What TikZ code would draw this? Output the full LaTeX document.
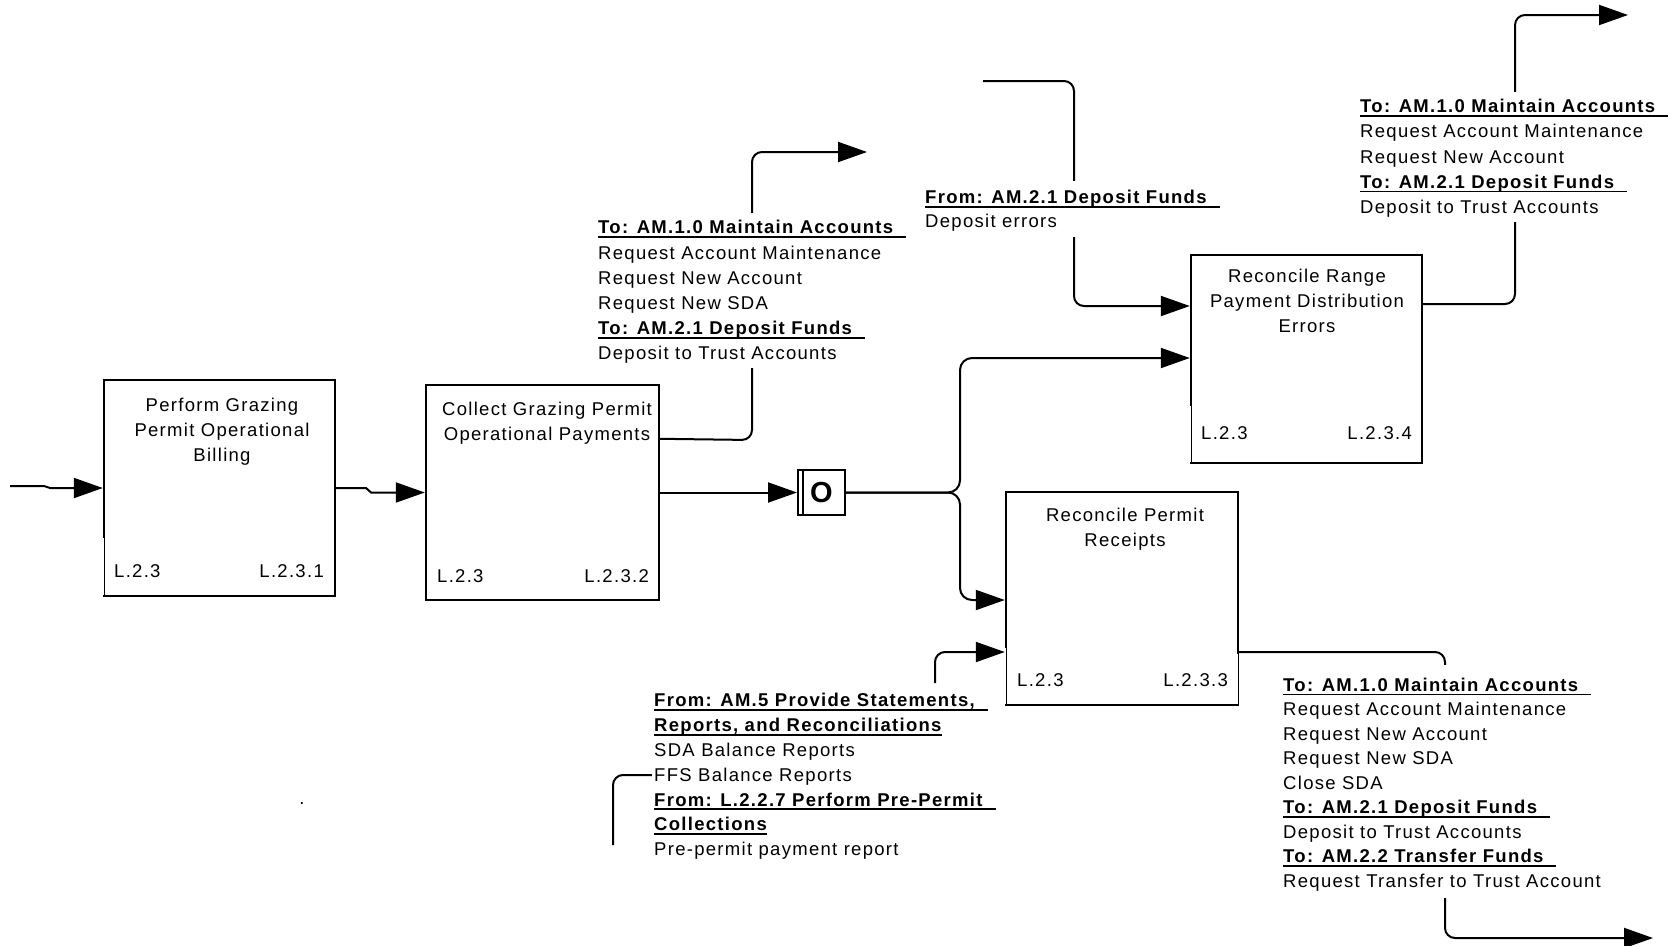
\documentclass[tikz,border=0pt]{standalone}
\usepackage{fontspec}
\setmainfont{Liberation Sans}[LetterSpace=7]
\usetikzlibrary{arrows.meta,calc}

% underlined bold flow heading (underline runs past the text) and plain variant
\newcommand{\hd}[1]{\sbox0{\bfseries #1\hspace{13pt}}\rlap{\rule[-4pt]{\wd0}{1.6pt}}\usebox0}
\newcommand{\hdn}[1]{\sbox0{\bfseries #1}\rlap{\rule[-4pt]{\wd0}{1.6pt}}\usebox0}
% invisible struts that set how far a text block's white ground reaches
\newcommand{\tstrut}[1]{\rule{0pt}{#1}}
\newcommand{\bstrut}[1]{\rule[-#1]{0pt}{#1}}

\pgfdeclarelayer{lines}
\pgfsetlayers{lines,main}

\tikzset{
  procbox/.style={draw, line width=2.4pt, inner sep=0pt},
  txt/.style={inner sep=0pt, font=\fontsize{18.5}{25}\selectfont},
  boxtext/.style={txt, align=center, anchor=north},
  blk/.style={inner xsep=2pt, inner ysep=0pt, align=left, anchor=north west, fill=white},
  conn/.style={line width=2pt, rounded corners=10pt},
  arr/.style={conn, -{Triangle[length=29pt,width=20pt]}},
  thinedge/.style={line width=0.8pt},
  wipe/.style={white, line width=3pt}
}

\begin{document}
\begin{tikzpicture}[x=1pt, y=-1pt]
\useasboundingbox (0,0) rectangle (1673,945);

% ---------- activity boxes ----------
\node[procbox, minimum width=231pt, minimum height=216pt] (b1) at (219.5,488) {};
\node[procbox, minimum width=233pt, minimum height=215pt] (b2) at (542.5,492.5) {};
\node[procbox, minimum width=231pt, minimum height=208pt] (b3) at (1306.5,359) {};
\node[procbox, minimum width=232pt, minimum height=213pt] (b4) at (1122,598.5) {};

% thin lower parts of some box edges (label strip)
\draw[wipe] (104,538) -- (104,594.6);   \draw[thinedge] (104,538) -- (104,594.6);
\draw[wipe] (1191,406) -- (1191,461.6); \draw[thinedge] (1191,406) -- (1191,461.6);
\draw[wipe] (1006,648) -- (1006,703.6); \draw[thinedge] (1006,648) -- (1006,703.6);
\draw[wipe] (1238,654) -- (1238,703.6); \draw[thinedge] (1238,654) -- (1238,703.6);

% box titles
\node[boxtext] (b1t) at (222,398.1) {\tstrut{13.5pt}Perform Grazing\\Permit Operational\\Billing};
\node[boxtext] (b2t) at (547,402.1) {\tstrut{13.5pt}Collect Grazing Permit\\Operational Payments};
\node[boxtext] (b3t) at (1307,268.6) {\tstrut{13.5pt}Reconcile Range\\Payment Distribution\\Errors};
\node[boxtext] (b4t) at (1125,508.1) {\tstrut{13.5pt}Reconcile Permit\\Receipts};

% box reference labels
\node[txt, anchor=west] (b1l) at (114,571) {L.2.3};
\node[txt, anchor=east] (b1r) at (324,571) {L.2.3.1};
\node[txt, anchor=west] (b2l) at (437,576) {L.2.3};
\node[txt, anchor=east] (b2r) at (649,576) {L.2.3.2};
\node[txt, anchor=west] (b3l) at (1201,433) {L.2.3};
\node[txt, anchor=east] (b3r) at (1412,433) {L.2.3.4};
\node[txt, anchor=west] (b4l) at (1017,680) {L.2.3};
\node[txt, anchor=east] (b4r) at (1228,680) {L.2.3.3};

% junction
\node[draw, line width=2pt, minimum width=47pt, minimum height=45pt, inner sep=0pt,
      font=\fontsize{29}{29}\selectfont\bfseries\addfontfeature{LetterSpace=0}] (jO) at (821.5,492.5) {O};
\draw[line width=1.5pt] ($(jO.north west)+(6,1)$) -- ($(jO.south west)+(6,-1)$);

% ---------- flow text blocks ----------
\node[blk, font=\fontsize{18.5}{25.2}\selectfont] (T1) at (596,213) {%
\tstrut{20.6pt}\hd{To: AM.1.0 Maintain Accounts}\\
Request Account Maintenance\\
Request New Account\\
Request New SDA\\
\hd{To: AM.2.1 Deposit Funds}\\
Deposit to Trust Accounts\bstrut{8.5pt}};

\node[blk, font=\fontsize{18.5}{24}\selectfont] (T2) at (923,181) {%
\tstrut{22.6pt}\hd{From: AM.2.1 Deposit Funds}\\
Deposit errors\bstrut{9.5pt}};

\node[blk, font=\fontsize{18.5}{25.3}\selectfont] (T3) at (1358,92) {%
\tstrut{20.3pt}\hd{To: AM.1.0 Maintain Accounts}\\
Request Account Maintenance\\
Request New Account\\
\hd{To: AM.2.1 Deposit Funds}\\
Deposit to Trust Accounts\bstrut{8.5pt}};

\node[blk, font=\fontsize{18.5}{24.8}\selectfont] (T4) at (652,693.1) {%
\tstrut{13.5pt}\hd{From: AM.5 Provide Statements,}\\
\hdn{Reports, and Reconciliations}\\
SDA Balance Reports\\
FFS Balance Reports\\
\hd{From: L.2.2.7 Perform Pre-Permit}\\
\hdn{Collections}\\
Pre-permit payment report};

\node[blk, font=\fontsize{18.5}{24.5}\selectfont] (T5) at (1281,665) {%
\tstrut{26.2pt}\hd{To: AM.1.0 Maintain Accounts}\\
Request Account Maintenance\\
Request New Account\\
Request New SDA\\
Close SDA\\
\hd{To: AM.2.1 Deposit Funds}\\
Deposit to Trust Accounts\\
\hd{To: AM.2.2 Transfer Funds}\\
Request Transfer to Trust Account\bstrut{10.5pt}};

\node[txt] (dot) at (302,803) {.};

% ---------- connector end points ----------
\coordinate (in0) at (10,486);
\coordinate (in2) at (983,81);
\coordinate (out1) at (867,152);
\coordinate (out2) at (1628,15);
\coordinate (out3) at (1653,938);
\coordinate (k1) at (960,358);
\coordinate (k2) at (960,600);
\coordinate (k3) at (1074,306);
\coordinate (k4) at (1515,304);
\coordinate (k5) at (1445,652);
\coordinate (s4) at (935,683);
\coordinate (k6) at (935,652);
\coordinate (d0) at (613,845);
\coordinate (d1) at (613,775);

% ---------- connectors ----------
\begin{pgfonlayer}{lines}
\draw[arr, sharp corners] (in0) -- (44,486) -- (50,488) -- (b1.west);
\draw[arr, sharp corners] (b1.east) -- (366,488) -- (371,492.5) -- (b2.west);
\draw[arr] (b2.east) -- (jO.west);
\draw[arr] ($(b2.north east)+(0,55)$) -- (752,440) -- (752,152) -- (out1);
\draw[arr, rounded corners=12pt] (jO.east) -- (960,492.5) -- (k1) -- (k1 -| b3.west);
\draw[arr, rounded corners=12pt] (jO.east) -- (960,492.5) -- (k2) -- (k2 -| b4.west);
\draw[arr] (in2) -- (1074,81) -- (k3) -- (k3 -| b3.west);
\draw[arr] (k4 -| b3.east) -- (k4) -- (1515,15) -- (out2);
\draw[arr] (k5 -| b4.east) -- (k5) -- (1445,938) -- (out3);
\draw[arr] (s4) -- (k6) -- (k6 -| b4.west);
\draw[conn] (d0) -- (d1) -- (d1 -| T4.west);
\end{pgfonlayer}
\end{tikzpicture}
\end{document}
